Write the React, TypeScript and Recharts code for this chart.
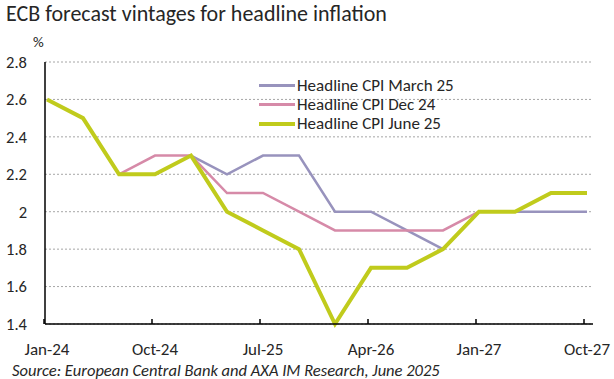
import { CartesianGrid, Line, LineChart, XAxis, YAxis } from "recharts";

const quarters = [
  "Jan-24", "Apr-24", "Jul-24", "Oct-24",
  "Jan-25", "Apr-25", "Jul-25", "Oct-25",
  "Jan-26", "Apr-26", "Jul-26", "Oct-26",
  "Jan-27", "Apr-27", "Jul-27", "Oct-27",
];
const march25 = [null, null, null, null, 2.3, 2.2, 2.3, 2.3, 2.0, 2.0, 1.9, 1.8, 2.0, 2.0, 2.0, 2.0];
const dec24 = [null, null, 2.2, 2.3, 2.3, 2.1, 2.1, 2.0, 1.9, 1.9, 1.9, 1.9, 2.0, null, null, null];
const june25 = [2.6, 2.5, 2.2, 2.2, 2.3, 2.0, 1.9, 1.8, 1.4, 1.7, 1.7, 1.8, 2.0, 2.0, 2.1, 2.1];
const yTicks = [1.4, 1.6, 1.8, 2.0, 2.2, 2.4, 2.6, 2.8];

const FONT = "Carlito, Lato, 'Open Sans', sans-serif";
const TEXT = "#262626";

const series = [
  { key: "Headline CPI March 25", values: march25, color: "#9893bd", width: 2.5 },
  { key: "Headline CPI Dec 24", values: dec24, color: "#d68aa8", width: 2.5 },
  { key: "Headline CPI June 25", values: june25, color: "#c0cb1c", width: 4 },
];

const data = quarters.map((q, i) => {
  const row: Record<string, string | number | null> = { q };
  series.forEach((s) => (row[s.key] = s.values[i]));
  return row;
});

function XTick({ x, y, payload }: { x?: number; y?: number; payload?: { value: string } }) {
  const px = x ?? 0;
  const py = y ?? 0;
  return (
    <g>
      <line x1={px - 3} x2={px - 3} y1={py} y2={py - 5} stroke="#000" strokeWidth={1.5} />
      <text x={px} y={py + 31} textAnchor="middle" fontSize={17} fill={TEXT} fontFamily={FONT}>
        {payload?.value}
      </text>
    </g>
  );
}

function LegendBox() {
  return (
    <div style={{ position: "absolute", left: 259, top: 76, fontSize: 17, color: TEXT, lineHeight: "19px" }}>
      {series.map((s) => (
        <div key={s.key} style={{ display: "flex", alignItems: "center", height: 19 }}>
          <span style={{ width: 36, height: s.width === 4 ? 4 : 3, background: s.color, marginRight: 2 }} />
          <span style={{ whiteSpace: "nowrap" }}>{s.key}</span>
        </div>
      ))}
    </div>
  );
}

export default function App() {
  return (
    <div style={{ position: "absolute", left: 0, top: 0, width: 614, height: 379, background: "#fff", fontFamily: FONT }}>
      <div style={{ position: "absolute", left: 6, top: 0, fontSize: 22, color: TEXT, whiteSpace: "nowrap" }}>
        ECB forecast vintages for headline inflation
      </div>
      <div style={{ position: "absolute", left: 33, top: 33, fontSize: 15, color: TEXT }}>%</div>
      <LineChart
        width={614}
        height={379}
        data={data}
        margin={{ top: 62, right: 21, left: 0, bottom: 25 }}
      >
        <CartesianGrid vertical={false} stroke="#a6a6a6" strokeDasharray="2 2" />
        <XAxis
          dataKey="q"
          interval={2}
          padding={{ left: 2, right: 6 }}
          axisLine={{ stroke: "#000", strokeWidth: 1.5 }}
          tickLine={false}
          tickSize={0}
          tickMargin={0}
          height={30}
          tick={<XTick />}
        />
        <YAxis
          domain={[1.4, 2.8]}
          ticks={yTicks}
          width={45}
          axisLine={{ stroke: "#000", strokeWidth: 1.5 }}
          tickLine={false}
          tickSize={0}
          tickMargin={18}
          tickFormatter={(v: number) => (v === 2 ? "2" : v.toFixed(1))}
          tick={{ fontSize: 16.5, fill: TEXT, fontFamily: FONT }}
        />
        {series.map((s) => (
          <Line
            key={s.key}
            dataKey={s.key}
            stroke={s.color}
            strokeWidth={s.width}
            dot={false}
            activeDot={false}
            type="linear"
            isAnimationActive={false}
          />
        ))}
      </LineChart>
      <LegendBox />
      <div style={{ position: "absolute", left: 12, top: 362, fontSize: 16.5, fontStyle: "italic", color: TEXT, whiteSpace: "nowrap", lineHeight: "17px" }}>
        Source: European Central Bank and AXA IM Research, June 2025
      </div>
    </div>
  );
}
